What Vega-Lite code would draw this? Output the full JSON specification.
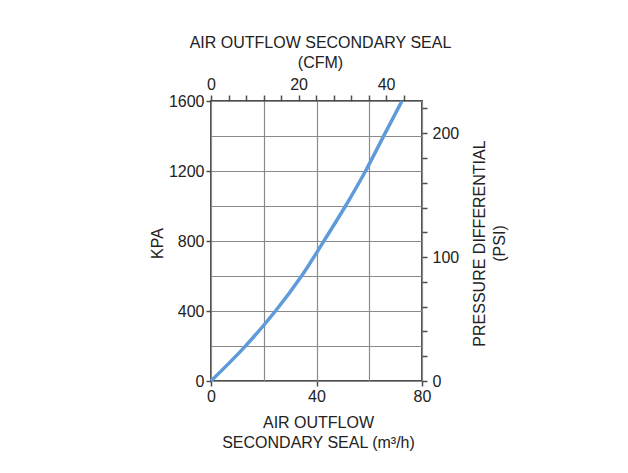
{
  "$schema": "https://vega.github.io/schema/vega-lite/v6.json",
  "width": 211,
  "height": 280,
  "autosize": {"type": "none"},
  "padding": {"left": 211, "top": 101, "right": 206, "bottom": 92},
  "background": "white",
  "config": {
    "view": {"stroke": "#4d4d4d", "strokeWidth": 2},
    "font": "Liberation Sans",
    "axis": {
      "domain": false,
      "labelFont": "Liberation Sans",
      "labelFontSize": 16,
      "labelColor": "#222222",
      "labelFlush": false,
      "labelOverlap": false,
      "tickColor": "#4d4d4d",
      "tickWidth": 1.5,
      "titleFont": "Liberation Sans",
      "titleFontSize": 16,
      "titleFontWeight": "normal",
      "titleColor": "#222222",
      "titleLineHeight": 20,
      "titleBaseline": "middle",
      "titleAlign": "center",
      "gridColor": "#8a8a8a",
      "gridWidth": 1.2,
      "gridOpacity": 1
    }
  },
  "data": {
    "values": [
      {"flow": 0, "kpa": 0, "cfm": 0, "psi": 0},
      {"flow": 12.6, "kpa": 192, "cfm": 7.4, "psi": 28},
      {"flow": 24.6, "kpa": 403, "cfm": 14.5, "psi": 58},
      {"flow": 34.6, "kpa": 606, "cfm": 20.4, "psi": 88},
      {"flow": 42.6, "kpa": 795, "cfm": 25.1, "psi": 115},
      {"flow": 51.0, "kpa": 1000, "cfm": 30.0, "psi": 145},
      {"flow": 58.6, "kpa": 1200, "cfm": 34.5, "psi": 174},
      {"flow": 65.4, "kpa": 1398, "cfm": 38.5, "psi": 203},
      {"flow": 72.4, "kpa": 1600, "cfm": 42.6, "psi": 232}
    ]
  },
  "layer": [
    {
      "mark": {"type": "line", "color": "#5f9bd9", "strokeWidth": 3.5, "interpolate": "catmull-rom"},
      "encoding": {
        "x": {
          "field": "flow",
          "type": "quantitative",
          "scale": {"domain": [0, 80], "nice": false, "zero": true},
          "axis": {
            "orient": "bottom",
            "values": [0, 20, 40, 60, 80],
            "labelExpr": "datum.value % 40 == 0 ? datum.label : ''",
            "grid": true,
            "tickSize": 5,
            "tickOpacity": {"condition": {"test": "datum.value % 40 == 0", "value": 1}, "value": 0},
            "labelPadding": 2,
            "title": ["AIR OUTFLOW", "SECONDARY SEAL (m³/h)"],
            "titleX": 107,
            "titleY": 41
          }
        },
        "y": {
          "field": "kpa",
          "type": "quantitative",
          "scale": {"domain": [0, 1600], "nice": false},
          "axis": {
            "orient": "left",
            "values": [0, 200, 400, 600, 800, 1000, 1200, 1400, 1600],
            "labelExpr": "datum.value % 400 == 0 ? datum.label : ''",
            "format": "d",
            "grid": true,
            "tickSize": 5,
            "tickOpacity": {"condition": {"test": "datum.value % 400 == 0", "value": 1}, "value": 0},
            "labelPadding": 2,
            "title": "KPA",
            "titleAngle": 270,
            "titleX": -54,
            "titleY": 142
          }
        }
      }
    },
    {
      "mark": {"type": "line", "opacity": 0},
      "encoding": {
        "x": {
          "field": "cfm",
          "type": "quantitative",
          "scale": {"domain": [0, 48.2], "nice": false},
          "axis": {
            "orient": "top",
            "values": [0, 4, 8, 12, 16, 20, 24, 28, 32, 36, 40, 44],
            "labelExpr": "datum.value % 20 == 0 ? datum.label : ''",
            "grid": false,
            "tickSize": 6,
            "labelPadding": 3,
            "title": ["AIR OUTFLOW SECONDARY SEAL", "(CFM)"],
            "titleX": 109,
            "titleY": -59
          }
        },
        "y": {
          "field": "psi",
          "type": "quantitative",
          "scale": {"domain": [0, 226], "nice": false},
          "axis": {
            "orient": "right",
            "values": [0, 20, 40, 60, 80, 100, 120, 140, 160, 180, 200, 220],
            "labelExpr": "datum.value % 100 == 0 ? datum.label : ''",
            "grid": false,
            "tickSize": 5,
            "labelPadding": 5,
            "title": ["PRESSURE DIFFERENTIAL", "(PSI)"],
            "titleAngle": 270,
            "titleX": 57,
            "titleY": 142
          }
        }
      }
    }
  ],
  "resolve": {"scale": {"x": "independent", "y": "independent"}}
}
